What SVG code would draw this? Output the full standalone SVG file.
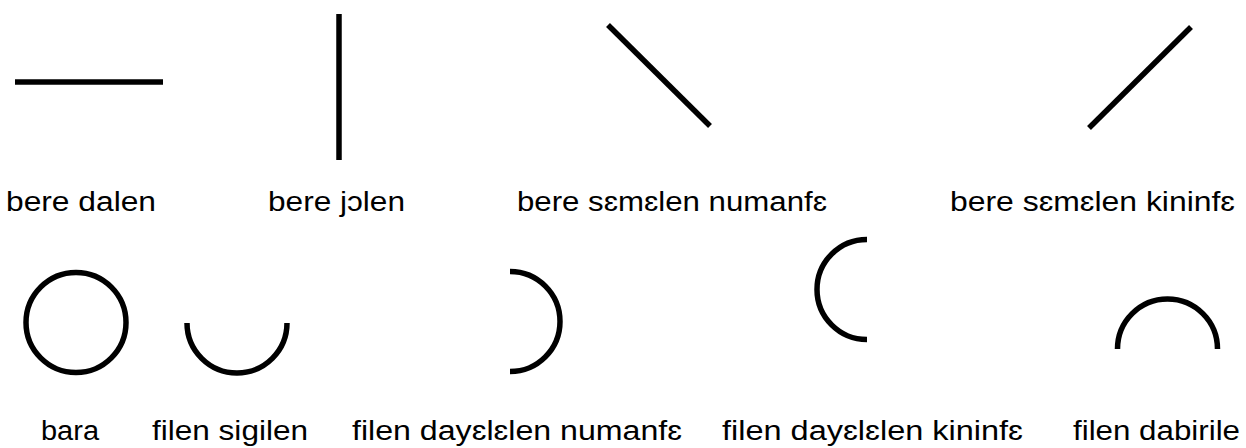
<svg xmlns="http://www.w3.org/2000/svg" width="1246" height="448" viewBox="0 0 1246 448">
  <style>
    .shape { fill: none; stroke: #000; stroke-width: 5.5; stroke-linecap: butt; }
    .lbl { font-family: "Liberation Sans", Arial, Helvetica, sans-serif; font-size: 27px; fill: #000; }
  </style>
  <rect width="1246" height="448" fill="#fff"/>
  <g id="bere-dalen">
    <line class="shape" x1="15" y1="82" x2="163" y2="82"/>
    <text class="lbl" x="6" y="211" textLength="150" lengthAdjust="spacingAndGlyphs">bere dalen</text>
  </g>
  <g id="bere-jolen">
    <line class="shape" x1="339" y1="14" x2="339" y2="160"/>
    <text class="lbl" x="268" y="211" textLength="137" lengthAdjust="spacingAndGlyphs">bere jɔlen</text>
  </g>
  <g id="bere-semelen-numanfe">
    <line class="shape" x1="608" y1="25" x2="710" y2="126"/>
    <text class="lbl" x="517" y="211" textLength="310" lengthAdjust="spacingAndGlyphs">bere sɛmɛlen numanfɛ</text>
  </g>
  <g id="bere-semelen-kininfe">
    <line class="shape" x1="1191" y1="27" x2="1089" y2="128"/>
    <text class="lbl" x="950" y="211" textLength="285" lengthAdjust="spacingAndGlyphs">bere sɛmɛlen kininfɛ</text>
  </g>
  <g id="bara">
    <circle class="shape" cx="76" cy="322.5" r="50"/>
    <text class="lbl" x="41" y="440" textLength="58" lengthAdjust="spacingAndGlyphs">bara</text>
  </g>
  <g id="filen-sigilen">
    <path class="shape" d="M187,323 A50,50 0 0 0 287,323"/>
    <text class="lbl" x="152" y="440" textLength="156" lengthAdjust="spacingAndGlyphs">filen sigilen</text>
  </g>
  <g id="filen-dayelelen-numanfe">
    <path class="shape" d="M510,271.5 A50,50 0 0 1 510,371.5"/>
    <text class="lbl" x="352" y="440" textLength="330" lengthAdjust="spacingAndGlyphs">filen dayɛlɛlen numanfɛ</text>
  </g>
  <g id="filen-dayelelen-kininfe">
    <path class="shape" d="M867,239.5 A50,50 0 0 0 867,339.5"/>
    <text class="lbl" x="722" y="440" textLength="301" lengthAdjust="spacingAndGlyphs">filen dayɛlɛlen kininfɛ</text>
  </g>
  <g id="filen-dabirile">
    <path class="shape" d="M1117.5,349 A50,50 0 0 1 1217.5,349"/>
    <text class="lbl" x="1073" y="440" textLength="167" lengthAdjust="spacingAndGlyphs">filen dabirile</text>
  </g>
</svg>
